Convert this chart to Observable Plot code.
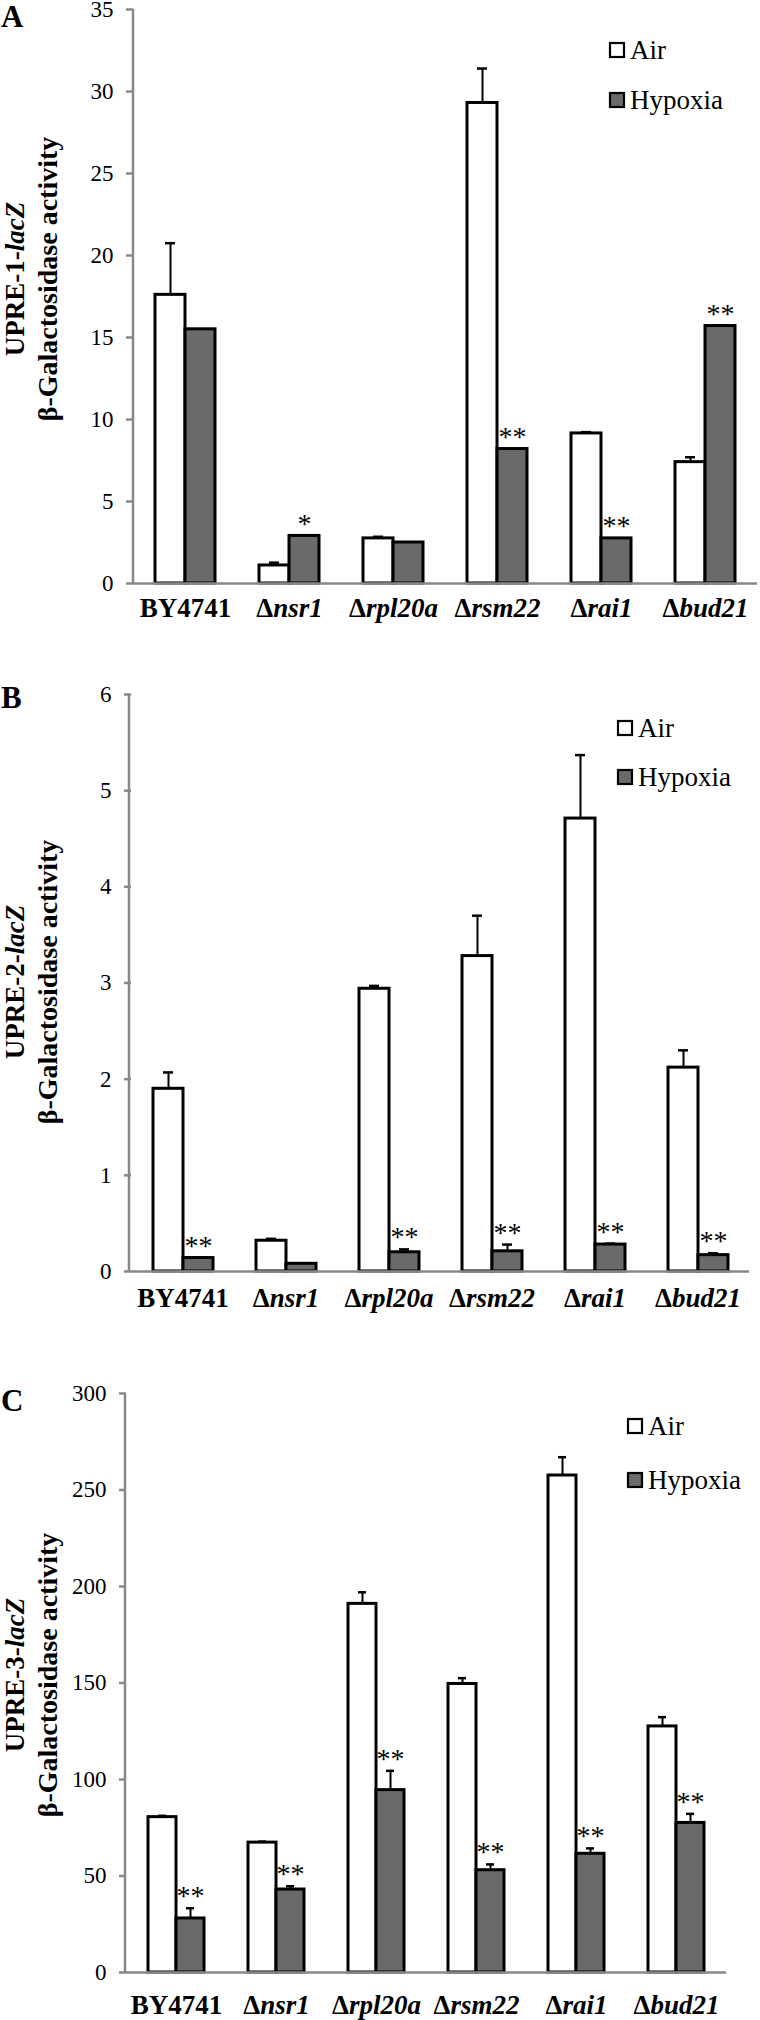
<!DOCTYPE html>
<html>
<head>
<meta charset="utf-8">
<script src="https://cdn.jsdelivr.net/npm/d3@7"></script>
<script src="https://cdn.jsdelivr.net/npm/@observablehq/plot@0.6"></script>
<style>
  html, body { margin: 0; padding: 0; background: #fff; }
  #root { position: relative; width: 760px; height: 2020px; overflow: hidden; background: #fff; }
  .panel { position: absolute; left: 0; width: 760px; }
  svg { overflow: visible; }
  g[aria-label="fx-axis tick label"] { font-weight: bold; }
</style>
</head>
<body>
<div id="root"></div>
<script>
// ---------- data ----------
const categories = ["BY4741", "Δnsr1", "Δrpl20a", "Δrsm22", "Δrai1", "Δbud21"];
const series = ["Air", "Hypoxia"];

// Panel A: UPRE-1-lacZ
const airA    = [17.6, 1.1, 2.75, 29.3, 9.15, 7.4];
const airErrA = [3.15, 0.17, 0.1, 2.1, 0.08, 0.3];
const hypA    = [15.5, 2.9, 2.5, 8.2, 2.75, 15.7];
const hypErrA = [0, 0, 0, 0, 0, 0];
const starsA  = ["", "*", "", "**", "**", "**"];
const ticksA  = [0, 5, 10, 15, 20, 25, 30, 35];

// Panel B: UPRE-2-lacZ
const airB    = [1.9, 0.32, 2.94, 3.28, 4.71, 2.12];
const airErrB = [0.17, 0.02, 0.03, 0.42, 0.66, 0.18];
const hypB    = [0.14, 0.08, 0.2, 0.21, 0.28, 0.17];
const hypErrB = [0, 0, 0.03, 0.07, 0.01, 0.02];
const starsB  = ["**", "", "**", "**", "**", "**"];
const ticksB  = [0, 1, 2, 3, 4, 5, 6];

// Panel C: UPRE-3-lacZ
const airC    = [80.5, 67.3, 191, 149.5, 257.5, 127.5];
const airErrC = [0.7, 0.5, 6, 3, 9.5, 4.8];
const hypC    = [28, 43, 94.5, 53, 61.5, 77.5];
const hypErrC = [5.3, 1.7, 10, 3, 2.8, 4.7];
const starsC  = ["**", "**", "**", "**", "**", "**"];
const ticksC  = [0, 50, 100, 150, 200, 250, 300];

// ---------- helpers ----------
const SERIF = "'Liberation Serif', 'Times New Roman', Times, serif";
const GRAY_AXIS = "#888888";
const GRAY_BAR = "#6a6a6a";

function rowsFor(air, airErr, hyp, hypErr, stars) {
  return categories.flatMap((c, i) => [
    {category: c, series: "Air", value: air[i], err: airErr[i], star: ""},
    {category: c, series: "Hypoxia", value: hyp[i], err: hypErr[i], star: stars[i]}
  ]);
}

function panel(cfg) {
  const {rows, ticks, top, height, mt, mb, ml, mr, xPad, labelPad,
         letter, letterY, reporter, ylabelY, legend} = cfg;
  const yMax = ticks[ticks.length - 1];
  const errRows = rows.filter(d => d.err > 0);
  const svg = Plot.plot({
    width: 760,
    height,
    marginTop: mt, marginBottom: mb, marginLeft: ml, marginRight: mr,
    style: {fontFamily: SERIF, color: "black", background: "transparent", overflow: "visible"},
    fx: {domain: categories, padding: 0, label: null},
    x: {domain: series, paddingInner: 0, paddingOuter: xPad, axis: null},
    y: {domain: [0, yMax], label: null},
    color: {domain: series, range: ["white", GRAY_BAR]},
    marks: [
      Plot.axisY({ticks, tickSize: 7, tickPadding: 13, stroke: GRAY_AXIS, strokeWidth: 2.5,
                  fill: "black", fontSize: 23, label: null, tickFormat: d => String(d)}),
      Plot.axisFx({anchor: "bottom", tickSize: 0, tickPadding: labelPad, fontSize: 27, label: null}),
      Plot.ruleX(errRows, {fx: "category", x: "series", y1: "value", y2: d => d.value + d.err,
                           stroke: "black", strokeWidth: 2}),
      Plot.tickY(errRows, {fx: "category", x: "series", y: d => d.value + d.err,
                           stroke: "black", strokeWidth: 2.5, insetLeft: 10, insetRight: 10}),
      Plot.barY(rows, {fx: "category", x: "series", y: "value", fill: "series",
                       stroke: "black", strokeWidth: 3}),
      Plot.ruleY([0], {stroke: GRAY_AXIS, strokeWidth: 2.5}),
      Plot.text(rows.filter(d => d.star), {fx: "category", x: "series", y: d => d.value + d.err,
                       text: "star", dy: -12, fontSize: 28, fontFamily: SERIF, letterSpacing: 2})
    ]
  });

  const s = d3.select(svg);
  const ys = svg.scale("y");

  // y-axis line
  s.append("line")
    .attr("x1", ml).attr("x2", ml)
    .attr("y1", ys.apply(yMax)).attr("y2", ys.apply(0))
    .attr("stroke", GRAY_AXIS).attr("stroke-width", 2.5);

  // italic gene names in category labels
  s.selectAll('g[aria-label="fx-axis tick label"] text').each(function() {
    const t = this.textContent;
    if (t.startsWith("Δ")) {
      const el = d3.select(this);
      el.text("");
      el.append("tspan").text("Δ");
      el.append("tspan").attr("font-style", "italic").text(t.slice(1));
    }
  });

  // panel letter
  s.append("text").attr("x", 1).attr("y", letterY).attr("text-anchor", "start")
    .attr("font-family", SERIF).attr("font-weight", "bold").attr("font-size", 31)
    .attr("fill", "black").text(letter);

  // two-line y label
  const l1 = s.append("text")
    .attr("transform", `translate(24,${ylabelY}) rotate(-90)`)
    .attr("text-anchor", "middle").attr("font-family", SERIF)
    .attr("font-weight", "bold").attr("font-size", 27).attr("fill", "black");
  l1.append("tspan").text(`UPRE-${reporter}-`);
  l1.append("tspan").attr("font-style", "italic").text("lacZ");
  s.append("text")
    .attr("transform", `translate(57,${ylabelY}) rotate(-90)`)
    .attr("text-anchor", "middle").attr("font-family", SERIF)
    .attr("font-weight", "bold").attr("font-size", 28).attr("fill", "black")
    .text("β-Galactosidase activity");

  // legend
  const lg = s.append("g");
  series.forEach((name, i) => {
    const by = legend.y[i];
    lg.append("rect").attr("x", legend.x).attr("y", by).attr("width", 14).attr("height", 14)
      .attr("fill", i === 0 ? "white" : GRAY_BAR).attr("stroke", "black").attr("stroke-width", 2.2);
    lg.append("text").attr("x", legend.x + 20).attr("y", by + 16).attr("text-anchor", "start")
      .attr("font-family", SERIF).attr("font-size", 27).attr("fill", "black").text(name);
  });

  const div = document.createElement("div");
  div.className = "panel";
  div.style.top = top + "px";
  div.style.height = height + "px";
  div.appendChild(svg);
  document.getElementById("root").appendChild(div);
}

panel({
  rows: rowsFor(airA, airErrA, hypA, hypErrA, starsA), ticks: ticksA,
  top: 0, height: 660, mt: 9, mb: 77, ml: 133, mr: 3, xPad: 0.705, labelPad: 14,
  letter: "A", letterY: 27, reporter: "1", ylabelY: 279,
  legend: {x: 610, y: [43, 93]}
});
panel({
  rows: rowsFor(airB, airErrB, hypB, hypErrB, starsB), ticks: ticksB,
  top: 660, height: 680, mt: 34, mb: 69, ml: 129, mr: 10, xPad: 0.697, labelPad: 16,
  letter: "B", letterY: 48, reporter: "2", ylabelY: 322,
  legend: {x: 618, y: [61, 110]}
});
panel({
  rows: rowsFor(airC, airErrC, hypC, hypErrC, starsC), ticks: ticksC,
  top: 1340, height: 680, mt: 53, mb: 48, ml: 125, mr: 34, xPad: 0.728, labelPad: 22,
  letter: "C", letterY: 71, reporter: "3", ylabelY: 335,
  legend: {x: 628, y: [79, 133]}
});
</script>
</body>
</html>
